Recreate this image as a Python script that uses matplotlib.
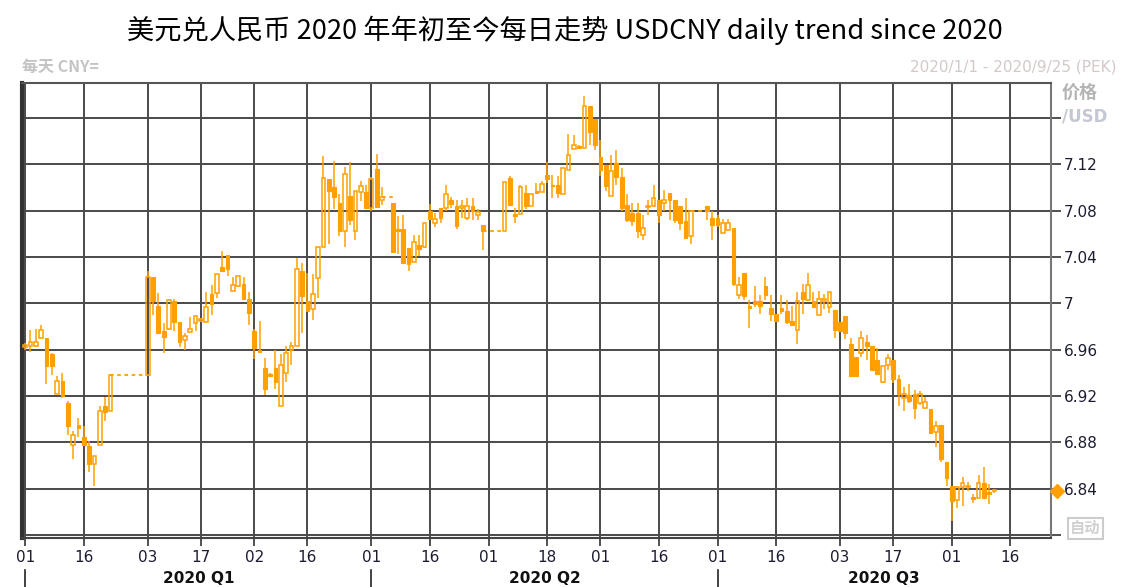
import numpy as np
import pandas as pd
import matplotlib
matplotlib.use("Agg")
import matplotlib.pyplot as plt
from matplotlib.transforms import blended_transform_factory

plt.rcParams["font.family"] = ["DejaVu Sans", "Noto Sans CJK SC"]

ORANGE = "#FFA000"
GRID = "#4a4a4a"

# one entry per weekday starting 2020-01-01, None = onshore market closed
open_ = [
    6.962, 6.963, 6.963, 6.970, 6.970, 6.956, 6.922, 6.933, 6.914, 6.878,
    6.895, 6.885, 6.877, 6.861, 6.878, 6.911, 6.907, None, None, None,
    None, None, None, 6.938, 7.023, 6.998, 6.976, 6.978, 7.002, 6.984,
    6.968, 6.975, 6.983, 6.985, 6.984, 7.008, 7.009, 7.031, 7.042, 7.011,
    7.015, 7.017, 7.004, 6.976, 6.960, 6.944, 6.939, 6.944, 6.911, 6.940,
    6.960, 6.963, 7.028, 7.002, 6.995, 7.022, 7.049, 7.107, 7.100, 7.087,
    7.062, 7.093, 7.062, 7.096, 7.096, 7.082, 7.116, 7.089, None, 7.087,
    7.064, 7.064, 7.048, 7.036, 7.050, 7.049, 7.080, 7.069, 7.082, 7.082,
    7.089, 7.084, 7.082, 7.074, 7.084, 7.076, 7.068, None, None, None,
    7.062, 7.108, 7.077, 7.077, 7.095, 7.084, 7.097, 7.096, 7.111, 7.102,
    7.102, 7.094, 7.115, 7.133, 7.136, 7.134, 7.170, 7.159, 7.126, 7.119,
    7.093, 7.121, 7.109, 7.085, 7.078, 7.078, 7.059, 7.083, 7.084, 7.089,
    7.087, 7.095, 7.089, 7.084, 7.071, 7.058, None, None, 7.084, 7.074,
    7.074, 7.061, 7.063, 7.065, 7.007, 7.026, 6.998, 7.002, 7.002, 7.015,
    6.996, 6.991, 6.996, 6.993, 6.985, 6.977, 7.010, 7.003, 7.002, 6.990,
    7.002, 6.997, 6.994, 6.984, 6.989, 6.965, 6.954, 6.957, 6.967, 6.963,
    6.951, 6.932, 6.947, 6.951, 6.935, 6.918, 6.921, 6.922, 6.914, 6.910,
    6.909, 6.889, 6.895, 6.863, 6.842, 6.830, 6.841, 6.841, 6.833, 6.832,
    6.845, 6.837, 6.838,
]
high_ = [
    6.966, 6.977, 6.978, 6.981, 6.970, 6.957, 6.937, 6.940, 6.916, 6.890,
    6.901, 6.894, 6.881, 6.868, 6.911, 6.919, 6.938, None, None, None,
    None, None, None, 7.028, 7.023, 7.009, 6.983, 7.004, 7.004, 6.984,
    6.974, 6.988, 6.990, 6.987, 7.010, 7.016, 7.025, 7.045, 7.042, 7.023,
    7.024, 7.023, 7.010, 6.978, 6.985, 6.953, 6.940, 6.960, 6.956, 6.963,
    6.967, 7.039, 7.035, 7.026, 7.025, 7.049, 7.127, 7.107, 7.123, 7.094,
    7.118, 7.122, 7.097, 7.106, 7.102, 7.109, 7.129, 7.100, None, 7.087,
    7.075, 7.076, 7.048, 7.059, 7.059, 7.069, 7.086, 7.078, 7.082, 7.102,
    7.092, 7.089, 7.089, 7.091, 7.091, 7.081, 7.068, None, None, None,
    7.105, 7.110, 7.082, 7.102, 7.102, 7.094, 7.104, 7.106, 7.122, 7.111,
    7.110, 7.117, 7.146, 7.145, 7.137, 7.179, 7.170, 7.159, 7.141, 7.119,
    7.128, 7.132, 7.117, 7.094, 7.087, 7.087, 7.076, 7.089, 7.102, 7.089,
    7.098, 7.095, 7.089, 7.084, 7.091, 7.080, None, None, 7.084, 7.080,
    7.076, 7.073, 7.073, 7.065, 7.023, 7.026, 7.003, 7.015, 7.007, 7.023,
    7.007, 6.991, 7.007, 7.003, 6.998, 7.010, 7.017, 7.026, 7.010, 7.011,
    7.008, 7.010, 6.994, 6.984, 6.989, 6.970, 6.954, 6.976, 6.973, 6.963,
    6.961, 6.946, 6.956, 6.951, 6.938, 6.928, 6.930, 6.925, 6.924, 6.919,
    6.909, 6.898, 6.895, 6.863, 6.842, 6.842, 6.850, 6.846, 6.835, 6.852,
    6.859, 6.844, 6.840,
]
low_ = [
    6.960, 6.958, 6.962, 6.970, 6.930, 6.938, 6.922, 6.918, 6.886, 6.866,
    6.885, 6.877, 6.854, 6.842, 6.878, 6.898, 6.907, None, None, None,
    None, None, None, 6.938, 6.990, 6.974, 6.957, 6.977, 6.976, 6.962,
    6.960, 6.975, 6.976, 6.984, 6.984, 6.990, 7.005, 7.028, 7.024, 7.011,
    7.014, 7.004, 6.981, 6.952, 6.957, 6.921, 6.936, 6.926, 6.911, 6.932,
    6.947, 6.963, 6.974, 6.993, 6.986, 7.005, 7.049, 7.051, 7.081, 7.058,
    7.049, 7.068, 7.055, 7.088, 7.082, 7.080, 7.083, 7.085, None, 7.044,
    7.043, 7.035, 7.028, 7.036, 7.041, 7.048, 7.073, 7.066, 7.069, 7.080,
    7.082, 7.064, 7.074, 7.072, 7.072, 7.072, 7.046, None, None, None,
    7.062, 7.085, 7.069, 7.077, 7.081, 7.084, 7.095, 7.096, 7.104, 7.091,
    7.091, 7.094, 7.115, 7.133, 7.133, 7.134, 7.137, 7.132, 7.110, 7.097,
    7.093, 7.102, 7.080, 7.070, 7.067, 7.056, 7.055, 7.076, 7.083, 7.069,
    7.080, 7.072, 7.069, 7.063, 7.056, 7.051, None, None, 7.072, 7.055,
    7.066, 7.061, 7.062, 7.015, 7.004, 7.003, 6.979, 6.997, 6.991, 7.003,
    6.985, 6.984, 6.991, 6.982, 6.980, 6.965, 6.991, 7.002, 6.996, 6.990,
    6.995, 6.992, 6.970, 6.976, 6.969, 6.937, 6.937, 6.954, 6.951, 6.942,
    6.938, 6.931, 6.942, 6.931, 6.911, 6.907, 6.914, 6.900, 6.912, 6.909,
    6.887, 6.876, 6.863, 6.842, 6.812, 6.823, 6.825, 6.838, 6.828, 6.832,
    6.832, 6.827, 6.836,
]
close_ = [
    6.964, 6.967, 6.967, 6.977, 6.946, 6.946, 6.933, 6.920, 6.894, 6.886,
    6.892, 6.878, 6.861, 6.868, 6.907, 6.906, 6.938, None, None, None,
    None, None, None, 7.023, 7.002, 6.974, 6.971, 7.003, 6.984, 6.967,
    6.972, 6.978, 6.989, 6.986, 6.997, 6.999, 7.025, 7.028, 7.030, 7.016,
    7.024, 7.004, 6.992, 6.961, 6.958, 6.926, 6.937, 6.932, 6.947, 6.957,
    6.963, 7.030, 7.006, 6.993, 7.008, 7.049, 7.108, 7.097, 7.092, 7.062,
    7.112, 7.072, 7.097, 7.101, 7.082, 7.107, 7.083, 7.092, None, 7.044,
    7.062, 7.035, 7.034, 7.053, 7.047, 7.069, 7.073, 7.073, 7.074, 7.094,
    7.086, 7.067, 7.084, 7.084, 7.080, 7.079, 7.062, None, None, None,
    7.105, 7.085, 7.075, 7.100, 7.084, 7.094, 7.095, 7.103, 7.107, 7.101,
    7.095, 7.117, 7.128, 7.137, 7.134, 7.170, 7.148, 7.137, 7.115, 7.101,
    7.114, 7.109, 7.082, 7.072, 7.071, 7.062, 7.065, 7.084, 7.091, 7.076,
    7.089, 7.089, 7.072, 7.069, 7.056, 7.080, None, None, 7.080, 7.068,
    7.068, 7.069, 7.069, 7.017, 7.016, 7.006, 6.996, 6.999, 6.998, 7.007,
    6.991, 6.985, 6.993, 6.984, 6.981, 7.002, 7.004, 7.016, 6.997, 7.004,
    7.004, 7.010, 6.977, 6.976, 6.974, 6.937, 6.937, 6.970, 6.963, 6.942,
    6.939, 6.946, 6.953, 6.935, 6.922, 6.922, 6.916, 6.910, 6.922, 6.915,
    6.888, 6.894, 6.866, 6.849, 6.829, 6.841, 6.845, 6.842, 6.831, 6.845,
    6.832, 6.835, 6.838,
]

tick_dates = ["2020-01-01", "2020-01-16", "2020-02-03", "2020-02-17", "2020-03-02",
              "2020-03-16", "2020-04-01", "2020-04-16", "2020-05-01", "2020-05-18",
              "2020-06-01", "2020-06-16", "2020-07-01", "2020-07-16", "2020-08-03",
              "2020-08-17", "2020-09-01", "2020-09-16"]
quarter_starts = ["2020-01-01", "2020-04-01", "2020-07-01"]
quarter_labels = ["2020 Q1", "2020 Q2", "2020 Q3"]
price_ticks = [6.80, 6.84, 6.88, 6.92, 6.96, 7.00, 7.04, 7.08, 7.12, 7.16]

days = pd.bdate_range("2020-01-01", "2020-09-25")
day_pos = {d: i for i, d in enumerate(days)}

o = np.array(open_, dtype=float)
h = np.array(high_, dtype=float)
l = np.array(low_, dtype=float)
c = np.array(close_, dtype=float)
x = np.arange(len(o))
ok = ~np.isnan(o)
up = ok & (c >= o)
dn = ok & (c < o)
top = np.fmax(o, c)
bot = np.fmin(o, c)
body = np.maximum(top - bot, 0.0012)

fig = plt.figure(figsize=(11.21, 5.87), dpi=100)
ax = fig.add_axes([0.0196, 0.0835, 0.9179, 0.7751])
ax.set_xlim(-0.6, len(days) - 0.4)
ax.set_ylim(6.7974, 7.1902)

# candles
ax.vlines(x[ok], top[ok], h[ok], color=ORANGE, lw=1.1, zorder=3)
ax.vlines(x[ok], l[ok], bot[ok], color=ORANGE, lw=1.1, zorder=3)
ax.bar(x[dn], body[dn], bottom=bot[dn], width=0.7, color=ORANGE,
       edgecolor=ORANGE, lw=0.8, zorder=3)
ax.bar(x[up], body[up], bottom=bot[up], width=0.7, facecolor="none",
       edgecolor=ORANGE, lw=1.1, zorder=3)

# holidays: dashed line at the last close
i = 0
while i < len(o):
    if np.isnan(o[i]):
        j = i
        while j < len(o) and np.isnan(o[j]):
            j += 1
        ax.plot([i - 1, j], [c[i - 1], c[i - 1]], color=ORANGE, lw=1.3,
                ls=(0, (2, 2)), zorder=3)
        i = j
    else:
        i += 1

# grid and axes styling
xt = [day_pos[pd.Timestamp(d)] for d in tick_dates]
ax.set_xticks(xt)
ax.set_xticklabels([pd.Timestamp(d).strftime("%d") for d in tick_dates])
ax.set_yticks(price_ticks)
ax.set_yticklabels([""] + [f"{v:g}" for v in price_ticks[1:-1]] + [""])
ax.yaxis.tick_right()
ax.grid(True, color=GRID, lw=1.4)
ax.set_axisbelow(True)
ax.tick_params(axis="y", direction="out", length=7, width=1.2, color="#333333",
               labelsize=11, labelcolor="#1c1c30", pad=2)
ax.tick_params(axis="x", direction="out", length=6, width=1.2, color="#333333",
               labelsize=11, labelcolor="#1c1c30", pad=3)
for side, lw, col in [("left", 3, "#333333"), ("top", 1.5, "#555555"),
                      ("right", 1.5, "#777777"), ("bottom", 1.5, "#444444")]:
    ax.spines[side].set_linewidth(lw)
    ax.spines[side].set_color(col)

# last price marker
ax.plot([1.006], [c[ok][-1]], marker="D", ms=7, color=ORANGE,
        transform=blended_transform_factory(ax.transAxes, ax.transData),
        clip_on=False, zorder=5)

# quarter band under the dates
tr = blended_transform_factory(ax.transData, ax.transAxes)
qs = [day_pos[pd.Timestamp(d)] for d in quarter_starts]
x_end = ax.get_xlim()[1]
for k, lab in enumerate(quarter_labels):
    a = qs[k]
    b = qs[k + 1] if k + 1 < len(qs) else x_end
    ax.plot([a, a], [-0.07, -0.11], color="#222222", lw=1.2, transform=tr,
            clip_on=False)
    ax.text((a + b) / 2, -0.088, lab, transform=tr, ha="center", va="center",
            fontsize=11, fontweight="bold", color="#111111")

# header texts
fig.text(0.504, 0.949, "美元兑人民币 2020 年年初至今每日走势 USDCNY daily trend since 2020",
         ha="center", va="center", fontsize=19.6,
         family=["Noto Sans CJK SC", "DejaVu Sans"])
fig.text(0.0196, 0.886, "每天 CNY=", ha="left", va="center", fontsize=11.5,
         fontweight="bold", color="#c4c4c4",
         family=["Noto Sans CJK SC", "DejaVu Sans"])
fig.text(0.9964, 0.886, "2020/1/1 - 2020/9/25 (PEK)", ha="right", va="center",
         fontsize=11, color="#d4c8c8")
fig.text(0.947, 0.842, "价格", ha="left", va="center", fontsize=13,
         fontweight="bold", color="#b4b4b4",
         family=["Noto Sans CJK SC", "DejaVu Sans"])
fig.text(0.947, 0.801, "/USD", ha="left", va="center", fontsize=12,
         fontweight="bold", color="#c4c8d4")
fig.text(0.968, 0.100, "自动", ha="center", va="center", fontsize=11,
         fontweight="bold", color="#d0d0d0",
         family=["Noto Sans CJK SC", "DejaVu Sans"],
         bbox=dict(boxstyle="square,pad=0.15", fc="white", ec="#cccccc", lw=1.5))

fig.savefig("out.png", dpi=100)
